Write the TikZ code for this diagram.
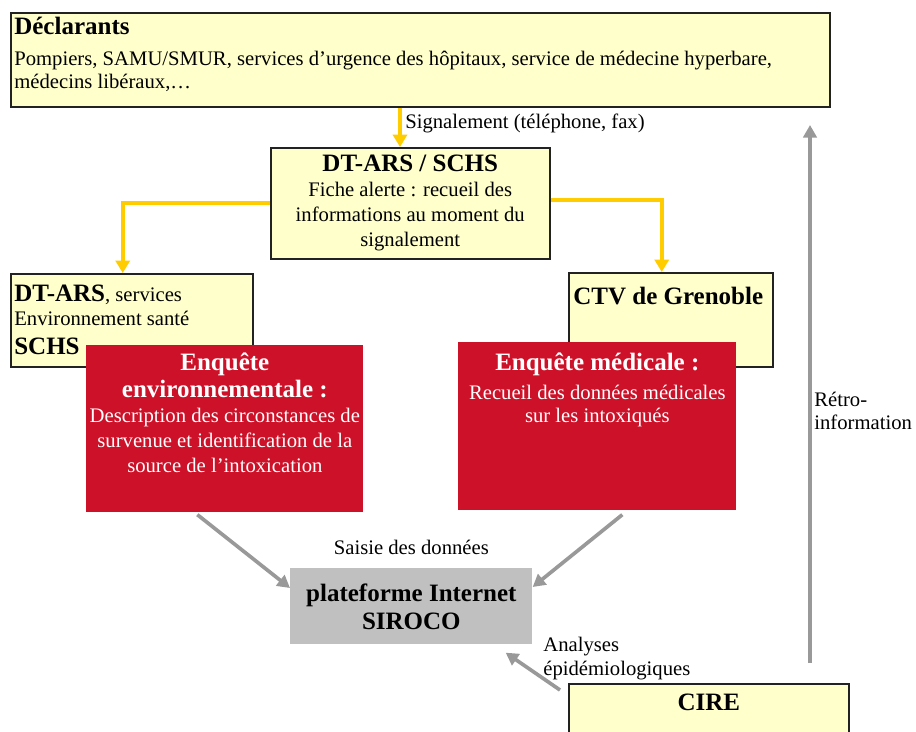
\documentclass[tikz,border=0pt]{standalone}
\usepackage{fontspec}
\setmainfont{Liberation Serif}
\usetikzlibrary{positioning,arrows.meta}
\definecolor{paleyellow}{HTML}{FFFFCC}
\definecolor{alertred}{HTML}{CD1128}
\definecolor{signalyellow}{HTML}{FFCC00}
\definecolor{sirocogray}{HTML}{C0C0C0}
\definecolor{flowgray}{HTML}{999999}
\definecolor{boxline}{HTML}{222222}
\newcommand{\boxhead}{\fontsize{15}{16.5}\selectfont\bfseries}
\tikzset{
  ybox/.style={draw=boxline,line width=0.9pt,fill=paleyellow,anchor=north west,inner sep=0pt},
  rbox/.style={fill=alertred,anchor=north west,inner sep=0pt},
  gbox/.style={fill=sirocogray,anchor=north west,inner sep=0pt},
  txt/.style={inner sep=0pt,font=\fontsize{12.4}{14.4}\selectfont},
  yarrow/.style={draw=signalyellow,line width=2.4pt,-{Triangle[length=7.5pt,width=8.5pt]}},
  garrow/.style={draw=flowgray,line width=2.2pt,-{Triangle[length=7.5pt,width=8pt]}}
}
\begin{document}
\begin{tikzpicture}[x=0.6pt,y=-0.6pt]
  \useasboundingbox (0,0) rectangle (916,731);
  \clip (0,0) rectangle (916,731);

  \node[ybox,minimum width=491.4pt,minimum height=56.4pt] (decl) at (10,12) {};
  \node[txt,anchor=north west,align=left,font=\fontsize{12.4}{13.8}\selectfont] (decltxt)
    at ([xshift=2.4pt,yshift=-3pt]decl.north west)
    {{\boxhead Déclarants}\\[4.8pt]
     Pompiers, SAMU/SMUR, services d’urgence des hôpitaux, service de médecine hyperbare,\\
     médecins libéraux,…};

  \node[ybox,minimum width=167.4pt,minimum height=66.6pt,align=center,font=\fontsize{12.4}{15}\selectfont]
    (dtars) at (270,147)
    {{\boxhead DT-ARS / SCHS}\\ Fiche alerte : recueil des\\ informations au moment du\\ signalement};

  \node[ybox,minimum width=145.2pt,minimum height=55.8pt] (dtarsenv) at (10,273) {};
  \node[txt,anchor=north west,align=left] (dtarsenvtxt)
    at ([xshift=2.4pt,yshift=-7pt]dtarsenv.north west)
    {{\boxhead DT-ARS}, services\\ Environnement santé\\[3pt] {\boxhead SCHS}};

  \node[ybox,minimum width=122.4pt,minimum height=56.4pt] (ctv) at (568,272) {};
  \node[txt,anchor=north west] (ctvtxt) at ([xshift=3pt,yshift=-9pt]ctv.north west)
    {\boxhead CTV de Grenoble};

  \node[rbox,minimum width=166.2pt,minimum height=100.2pt] (envi) at (86,345) {};
  \node[txt,anchor=north,align=center,text=white,font=\fontsize{12.4}{15}\selectfont] (envitxt)
    at ([yshift=-4.5pt]envi.north)
    {{\boxhead Enquête}\\[1.2pt] {\boxhead environnementale :}\\ Description des circonstances de\\
     survenue et identification de la\\ source de l’intoxication};

  \node[rbox,minimum width=166.8pt,minimum height=100.8pt] (med) at (458,342) {};
  \node[txt,anchor=north,align=center,text=white,font=\fontsize{12.4}{13.8}\selectfont] (medtxt)
    at ([yshift=-6.6pt]med.north)
    {{\boxhead Enquête médicale :}\\[3.6pt] Recueil des données médicales\\ sur les intoxiqués};

  \node[gbox,minimum width=145.2pt,minimum height=45.6pt,align=center,font=\fontsize{15}{16.8}\selectfont\bfseries]
    (siroco) at (290,568) {plateforme Internet\\ SIROCO};

  \node[ybox,minimum width=168pt,minimum height=60pt] (cire) at (568,683) {};
  \node[txt,anchor=north] (ciretxt) at ([yshift=-6.6pt]cire.north) {\boxhead CIRE};

  \coordinate (sig) at (400,0);
  \draw[yarrow] (decl.south -| sig) -- (dtars.north -| sig);
  \node[txt,anchor=west] (siglabel) at (405,123) {Signalement (téléphone, fax)};
  \draw[yarrow] (dtars.west) -| ([xshift=-5.4pt]dtarsenv.north);
  \draw[yarrow] ([yshift=2pt]dtars.east) -| ([xshift=-5.4pt]ctv.north);

  \draw[garrow] ([xshift=-16.5pt,yshift=-1.2pt]envi.south) -- ([yshift=-12pt]siroco.north west);
  \draw[garrow] ([xshift=15pt,yshift=-2.4pt]med.south) -- ([yshift=-11.4pt]siroco.north east);
  \node[txt,above=7.5pt of siroco] (saisie) {Saisie des données};

  \draw[garrow] ([xshift=-4.8pt,yshift=-4.2pt]cire.north west) -- ([xshift=-16.2pt,yshift=-4.8pt]siroco.south east);
  \node[txt,anchor=north west,align=left] (analyses) at (543,637) {Analyses\\ épidémiologiques};

  \coordinate (retrobottom) at (810,663);
  \coordinate (retrotop) at (810,125);
  \draw[garrow] (retrobottom) -- (retrotop);
  \node[txt,anchor=west,align=left,font=\fontsize{12.4}{13.8}\selectfont] (retrolabel) at (814,411) {Rétro-\\information};
\end{tikzpicture}
\end{document}
